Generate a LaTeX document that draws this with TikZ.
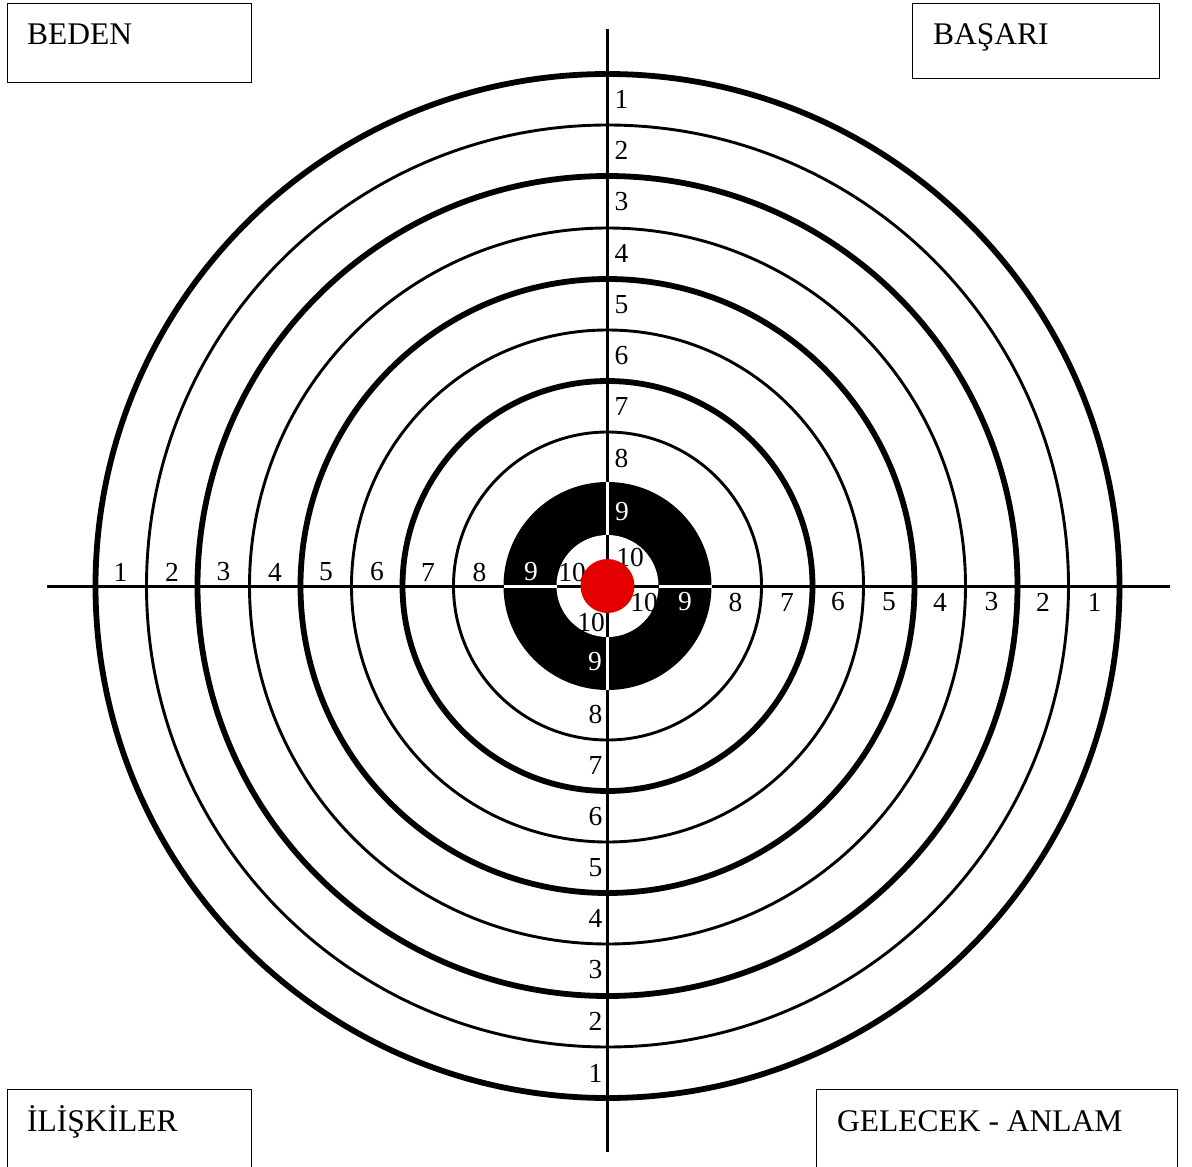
\documentclass[tikz,border=0pt]{standalone}
\usepackage{fontspec}
\setmainfont{Liberation Serif}
\usetikzlibrary{calc}
\begin{document}
\begin{tikzpicture}[x=1pt,y=-1pt,
  thickring/.style={line width=5.8pt},
  thinring/.style={line width=2.9pt},
  axis/.style={line width=3pt},
  box/.style={draw, line width=1.3pt, minimum width=244pt, minimum height=79pt, anchor=north west, inner sep=0pt},
  boxlbl/.style={anchor=base west, inner sep=0pt, font=\fontsize{31.5}{36}\selectfont},
  num/.style={inner sep=0pt, font=\fontsize{27.5}{30}\selectfont},
  wnum/.style={num, text=white}]
\useasboundingbox (0,0) rectangle (1192,1167);
\fill[white] (0,0) rectangle (1192,1167);
\coordinate (c) at (607.5,586);
% rings
\foreach \r in {512,410,307,205} \draw[thickring] (c) circle[radius=\r pt];
\foreach \r in {461,358,256,154} \draw[thinring] (c) circle[radius=\r pt];
% axes
\coordinate (hl) at (47,586);
\coordinate (hr) at (1170,586);
\coordinate (vt) at (607.5,29);
\coordinate (vb) at (607.5,1152);
\draw[axis] (hl) -- (hr);
\draw[axis] (vt) -- (vb);
% black ring and inner white
\fill[black] (c) circle[radius=104pt];
\fill[white] (c) circle[radius=51pt];
\draw[axis, white] ($(c)+(-104,0)$) -- ($(c)+(-51,0)$);
\draw[axis, white] ($(c)+(104,0)$) -- ($(c)+(51,0)$);
\draw[axis, white] ($(c)+(0,-104)$) -- ($(c)+(0,-51)$);
\draw[axis, white] ($(c)+(0,104)$) -- ($(c)+(0,51)$);
\draw[axis] ($(c)+(-51,0)$) -- ($(c)+(51,0)$);
\draw[axis] ($(c)+(0,-51)$) -- ($(c)+(0,51)$);
% ring numbers
\foreach \n/\r in {1/487,2/435.5,3/384,4/332.5,5/281.5,6/230.5,7/179.5,8/128}{
  \node[num] (t\n) at ($(c)+(14,-\r)$) {\n};
  \node[num] (b\n) at ($(c)+(-12,\r)$) {\n};
  \node[num] (l\n) at ($(c)+(-\r,-14)$) {\n};
  \node[num] (r\n) at ($(c)+(\r,16)$) {\n};
}
\node[wnum] (t9) at (622,512) {9};
\node[wnum] (l9) at (531,572) {9};
\node[wnum] (r9) at (685,602) {9};
\node[wnum] (b9) at (595,662) {9};
\node[num] (t10) at (630,557) {10};
\node[num] (l10) at (572,572) {10};
\node[num] (r10) at (644,602) {10};
\node[num] (b10) at (591,622) {10};
% bull
\fill[red!90!black] (c) circle[radius=27pt];
% boxes
\node[box] (beden) at (7,3) {};
\node[boxlbl] (bedent) at (27,44) {BEDEN};
\node[box, minimum width=247pt, minimum height=75pt] (basari) at (912,3) {};
\node[boxlbl] (basarit) at (933,45) {BAŞARI};
\node[box, minimum height=90pt] (iliski) at (7,1089) {};
\node[boxlbl] (iliskit) at (27,1131) {İLİŞKİLER};
\node[box, minimum width=361pt, minimum height=90pt] (gelecek) at (816,1089) {};
\node[boxlbl] (gelecekt) at (837,1131) {GELECEK - ANLAM};
\end{tikzpicture}
\end{document}
